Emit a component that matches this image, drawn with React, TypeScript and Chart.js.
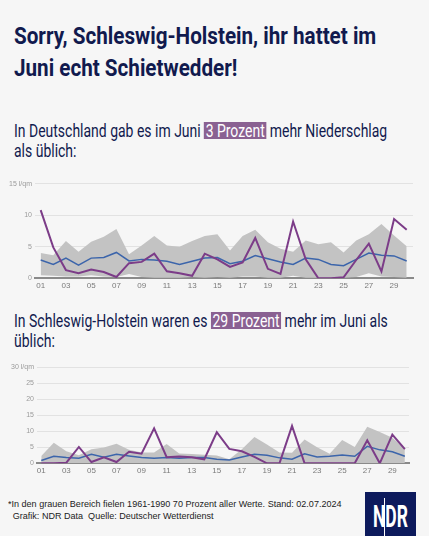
import React, { useEffect, useLayoutEffect, useRef } from "react";
import { Chart, registerables } from "chart.js";

Chart.register(...registerables);

const days = Array.from({ length: 30 }, (_, i) => i + 1);
const dayTicks = ["01","03","05","07","09","11","13","15","17","19","21","23","25","27","29"];

// Deutschland
const deActual = [10.8,4.9,1.3,0.8,1.4,1.0,0.2,2.4,2.6,3.9,1.1,0.8,0.4,3.9,3.0,1.8,2.5,6.4,1.5,0.7,9.0,3.0,0,0,0.15,2.9,5.5,1.1,9.4,7.7];
const deMean = [2.9,2.2,3.2,2.1,3.2,3.3,4.1,2.75,3.0,2.9,2.7,2.2,2.7,3.2,3.3,2.3,2.7,3.6,3.1,2.6,2.2,3.2,3.0,2.2,2.0,3.0,4.0,3.65,3.55,2.75];
const deUpper = [4.0,3.65,5.9,4.2,5.8,6.6,7.8,3.8,5.2,6.7,5.2,5.0,5.9,6.7,7.0,4.4,6.7,7.7,5.7,4.7,4.2,6.0,5.4,5.7,4.1,6.0,7.0,8.6,6.8,5.1];
const deLower = [0.5,0.4,0.3,0.3,0.5,0.3,0.2,0.7,0.2,0.1,0.1,0.1,0.2,0.1,0.2,0.1,0.3,0.3,0.1,0.1,0.4,0.1,0.1,0.1,0.1,0.2,0.8,0.3,0.2,0.1];

// Schleswig-Holstein
const shActual = [0,0,0.2,5.1,0.4,1.9,0.4,3.6,3.0,10.9,1.9,2.1,1.9,1.25,9.7,4.5,3.75,2.0,0,0,11.7,0,0,0,0,0,7.2,0,9.0,4.4];
const shMean = [0.9,2.2,1.8,1.6,2.8,1.9,2.8,2.3,1.8,1.6,1.8,1.6,1.8,1.8,1.25,1.0,2.0,2.8,2.5,1.7,1.25,3.0,2.0,2.2,2.6,2.2,5.3,4.2,3.6,2.2];
const shUpper = [2.3,6.4,3.75,2.5,4.4,4.9,6.1,4.2,3.4,3.4,6.0,3.1,2.9,2.7,2.4,1.25,4.4,8.2,5.9,3.4,3.3,7.4,5.0,3.0,7.3,5.1,11.4,9.8,8.0,4.6];
const shLower = [0,0,0,0,0,0,0,0,0,0,0,0,0,0,0,0,0,0,0,0,0,0,0,0,0,0,0,0,0,0];

const NAVY = "#111a4e";
const PURPLE_HL = "#8a6192";
const PURPLE = "#7c3c88";
const BLUE = "#3c65ab";
const GRAY = "#c3c3c3";

type Cfg = {
  actual: number[]; mean: number[]; upper: number[]; lower: number[];
  yMax: number; yStep: number; xMin: number; xMax: number;
  top: number; bottom: number; left: number; right: number; width: number; height: number;
};

function pts(v: number[]) {
  return days.map((d, i) => ({ x: d, y: v[i] }));
}

function MiniChart({ cfg }: { cfg: Cfg }) {
  const ref = useRef<HTMLCanvasElement>(null);
  useEffect(() => {
    if (!ref.current) return;
    const font = { family: "'Liberation Sans', Arial, sans-serif", size: 7 };
    const chart = new Chart(ref.current, {
      type: "line",
      data: {
        datasets: [
          { data: pts(cfg.actual), borderWidth: 2, pointRadius: 0, borderColor: PURPLE, fill: false },
          { data: pts(cfg.mean), borderWidth: 1.5, pointRadius: 0, borderColor: BLUE, fill: false },
          { data: pts(cfg.upper), borderWidth: 0, pointRadius: 0, fill: "+1", backgroundColor: GRAY, borderColor: "transparent" },
          { data: pts(cfg.lower), borderWidth: 0, pointRadius: 0, fill: false, borderColor: "transparent" },
        ],
      },
      options: {
        animation: false,
        responsive: false,
        maintainAspectRatio: false,
        layout: { padding: { top: cfg.top, left: 0, right: cfg.right, bottom: 0 } },
        plugins: { legend: { display: false }, tooltip: { enabled: false } },
        scales: {
          x: {
            type: "linear",
            min: cfg.xMin,
            max: cfg.xMax,
            afterBuildTicks: (s: any) => {
              s.ticks = days.filter((d) => d % 2 === 1).map((d) => ({ value: d }));
            },
            afterFit: (s: any) => { s.height = cfg.bottom; },
            grid: { display: false, drawTicks: false },
            border: { display: true, color: "#8a8a8a", width: 2 },
            ticks: {
              autoSkip: false,
              maxRotation: 0,
              padding: 3,
              color: "#7a7a7a",
              font: { family: "'Liberation Sans', Arial, sans-serif", size: 8 },
              callback: (v: any) => dayTicks[(Number(v) - 1) / 2] ?? "",
            },
          },
          y: {
            min: 0,
            max: cfg.yMax,
            afterFit: (s: any) => { s.width = cfg.left; },
            grid: { color: "#e2e2e2", lineWidth: 1, drawTicks: false },
            border: { display: false },
            ticks: {
              stepSize: cfg.yStep,
              padding: 3,
              color: "#9a9a9a",
              font,
              callback: (v: any) => (Number(v) === cfg.yMax ? `${v} l/qm` : `${v}`),
            },
          },
        },
      },
    });
    return () => chart.destroy();
  }, [cfg]);
  return <canvas ref={ref} width={cfg.width} height={cfg.height} style={{ display: "block", width: cfg.width, height: cfg.height }} />;
}

const cfg1: Cfg = {
  actual: deActual, mean: deMean, upper: deUpper, lower: deLower,
  yMax: 15, yStep: 5, xMin: 0.55, xMax: 30.5,
  top: 8.7, bottom: 16.7, left: 35, right: 16, width: 429, height: 120,
};
const cfg2: Cfg = {
  actual: shActual, mean: shMean, upper: shUpper, lower: shLower,
  yMax: 30, yStep: 5, xMin: 0.66, xMax: 30.33,
  top: 9.3, bottom: 14.7, left: 37, right: 20, width: 429, height: 120,
};

// A block of lines, squeezed horizontally so that the first line has the target width
function Fit({ lines, target, style, indent }: { lines: React.ReactNode[]; target: number; style: React.CSSProperties; indent?: number[] }) {
  const outer = useRef<HTMLDivElement>(null);
  const first = useRef<HTMLSpanElement>(null);
  useLayoutEffect(() => {
    if (!outer.current || !first.current) return;
    const w = first.current.offsetWidth;
    if (w > 0) outer.current.style.transform = `scaleX(${target / w})`;
  });
  return (
    <div ref={outer} style={{ position: "absolute", whiteSpace: "nowrap", transformOrigin: "0 0", ...style }}>
      {lines.map((l, i) => (
        <div key={i} style={{ paddingLeft: indent ? indent[i] || 0 : 0 }}>
          <span ref={i === 0 ? first : undefined}>{l}</span>
        </div>
      ))}
    </div>
  );
}

const SANS = "Roboto, 'Liberation Sans', sans-serif";
const hl: React.CSSProperties = { display: "inline-block", lineHeight: "17px", background: PURPLE_HL, color: "#fff", padding: "0 2px" };

export default function App() {
  return (
    <div style={{ position: "absolute", left: 0, top: 0, width: 429, height: 536, background: "#f6f6f6", overflow: "hidden", fontFamily: SANS }}>
      <Fit
        target={362}
        style={{ left: 14, top: 21.1, fontSize: 23.5, lineHeight: "31.7px", fontWeight: 700, color: NAVY }}
        lines={["Sorry, Schleswig-Holstein, ihr hattet im", "Juni echt Schietwedder!"]}
      />
      <Fit
        target={373}
        style={{ left: 14, top: 120.9, fontSize: 19, lineHeight: "20.6px", color: NAVY }}
        lines={[<>In Deutschland gab es im Juni <span style={hl}>3 Prozent</span> mehr Niederschlag</>, "als üblich:"]}
      />
      <div style={{ position: "absolute", left: 0, top: 175 }}>
        <MiniChart cfg={cfg1} />
      </div>
      <Fit
        target={374}
        style={{ left: 14, top: 310.9, fontSize: 19, lineHeight: "20.6px", color: NAVY }}
        lines={[<>In Schleswig-Holstein waren es <span style={hl}>29 Prozent</span> mehr im Juni als</>, "üblich:"]}
      />
      <div style={{ position: "absolute", left: 0, top: 358 }}>
        <MiniChart cfg={cfg2} />
      </div>
      <Fit
        target={334}
        style={{ left: 8.3, top: 498.2, fontSize: 9.5, lineHeight: "11.7px", color: "#222", fontFamily: "'Liberation Sans', Arial, sans-serif" }}
        lines={["*In den grauen Bereich fielen 1961-1990 70 Prozent aller Werte. Stand: 02.07.2024", "Grafik: NDR Data\u00a0\u00a0Quelle: Deutscher Wetterdienst"]}
        indent={[0, 5]}
      />
      <div style={{ position: "absolute", left: 365, top: 492, width: 51, height: 44, background: "#0d1a5c" }}>
        <Fit
          target={35}
          style={{ left: 8, top: 8.9, fontSize: 31, lineHeight: "31px", fontWeight: 700, color: "#fff" }}
          lines={["NDR"]}
        />
        <div style={{ position: "absolute", left: 19.3, top: 6, width: 1, height: 38, background: "#fff" }} />
      </div>
    </div>
  );
}
